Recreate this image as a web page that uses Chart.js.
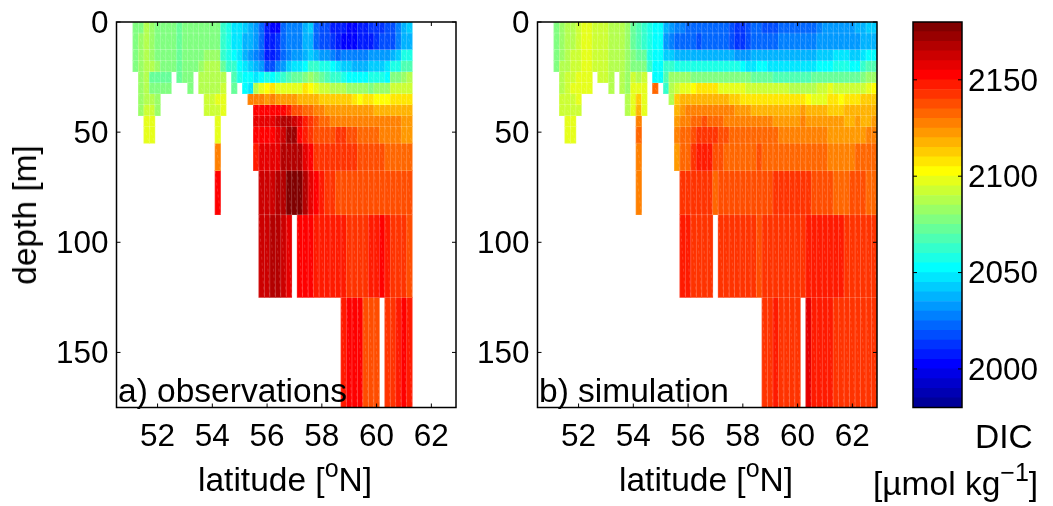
<!DOCTYPE html>
<html>
<head>
<meta charset="utf-8">
<script src="https://cdn.jsdelivr.net/npm/chart.js@4"></script>
<style>
body { margin: 0; background: white; }
#page { position: relative; width: 1053px; height: 506px; overflow: hidden; font-family: "Liberation Sans", Arial, sans-serif; color: black; }
canvas { position: absolute; top: 0; }
.txt { position: absolute; font-size: 33.5px; line-height: 38px; white-space: nowrap; }
.txt sup { font-size: 25px; line-height: 0; vertical-align: 14px; }
</style>
</head>
<body>
<div id="page">
<canvas id="obsChart" width="470" height="506" style="left:0"></canvas>
<canvas id="simChart" width="470" height="506" style="left:421px"></canvas>
<canvas id="barChart" width="193" height="506" style="left:860px"></canvas>
<div class="txt" style="left:198px;top:461px">latitude [<sup>o</sup>N]</div>
<div class="txt" style="left:619px;top:461px">latitude [<sup>o</sup>N]</div>
<div class="txt" style="left:25px;top:215px;transform:translate(-50%,-50%) rotate(-90deg)">depth [m]</div>
<div class="txt" style="left:118px;top:372px">a) observations</div>
<div class="txt" style="left:539px;top:372px">b) simulation</div>
<div class="txt" style="left:975px;top:418px">DIC</div>
<div class="txt" style="left:873px;top:465px">[µmol kg<sup>−1</sup>]</div>
</div>
<script>
const n = null;

// depth edges of the model layers [m]
const depthEdges = [0, 5, 12.5, 17.5, 22.5, 27.5, 32.5, 37.5, 42.5, 47.5, 55, 67.5, 87.5, 125, 175];
// 0.2 degree columns, 50.6 .. 62.8
const latCenters = [50.6, 50.8, 51.0, 51.2, 51.4, 51.6, 51.8, 52.0, 52.2, 52.4, 52.6, 52.8, 53.0, 53.2, 53.4, 53.6, 53.8, 54.0, 54.2, 54.4, 54.6, 54.8, 55.0, 55.2, 55.4, 55.6, 55.8, 56.0, 56.2, 56.4, 56.6, 56.8, 57.0, 57.2, 57.4, 57.6, 57.8, 58.0, 58.2, 58.4, 58.6, 58.8, 59.0, 59.2, 59.4, 59.6, 59.8, 60.0, 60.2, 60.4, 60.6, 60.8, 61.0, 61.2, 61.4, 61.6, 61.8, 62.0, 62.2, 62.4, 62.6, 62.8];
const firstCol = 3;
const latTicks = [52, 54, 56, 58, 60, 62];
const depthTicks = [0, 50, 100, 150];
const dicTicks = [2000, 2050, 2100, 2150];
const dicLevels = [1980, 1985, 1990, 1995, 2000, 2005, 2010, 2015, 2020, 2025, 2030, 2035, 2040, 2045, 2050, 2055, 2060, 2065, 2070, 2075, 2080, 2085, 2090, 2095, 2100, 2105, 2110, 2115, 2120, 2125, 2130, 2135, 2140, 2145, 2150, 2155, 2160, 2165, 2170, 2175];

// observations, one list per layer
const obs0 = [2075,2075,2085,2080,2075,2075,2075,2075,2070,2075, 2075,2075,2075,2075,2075,2075,2060,2055,2045,2045, 2040,2035,2030,2020,2005,2000,2000,2020,2025,2025, 2025,2035,2040,2020,2015,2015,2005,2005,2005,2000, 2000,2005,2005,2010,2010,2010,2015,2015,2025,2035,2040];
const obs1 = [2075,2080,2085,2080,2075,2075,2075,2075,2070,2075, 2075,2075,2075,2075,2075,2075,2060,2055,2045,2045, 2035,2035,2030,2020,2005,2005,2010,2020,2025,2025, 2025,2035,2035,2020,2015,2015,2010,2005,2000,2000, 2000,2005,2005,2005,2010,2015,2015,2015,2025,2035,2035];
const obs2 = [2075,2080,2085,2080,2075,2075,2075,2075,2070,2075, 2075,2075,2075,2080,2080,2080,2060,2055,2050,2045, 2035,2030,2025,2020,2005,2005,2010,2020,2025,2030, 2030,2035,2040,2035,2030,2030,2025,2020,2025,2025, 2025,2025,2025,2030,2030,2030,2030,2035,2040,2055,2055];
const obs3 = [2075,2080,2085,2085,2080,2075,2075,2075,2070,2075, 2075,2075,2080,2085,2085,2085,2070,2060,2060,2050, 2045,2040,2035,2030,2015,2015,2025,2030,2040,2045, 2045,2050,2060,2060,2055,2055,2050,2045,2040,2040, 2035,2035,2035,2040,2040,2040,2045,2055,2055,2065,2065];
const obs4 = [n,2080,2085,2070,2070,2070,2070,n,2070,2075, 2075,n,2085,2085,2085,2085,2085,n,2065,2055, 2050,2050,2045,2050,2055,2050,2055,2060,2065,2070, 2070,2075,2080,2075,2070,2065,2060,2060,2055,2050, 2050,2050,2050,2055,2055,2055,2050,2075,2075,2080,2085];
const obs5 = [n,2080,2085,2075,2075,2075,2075,n,n,n, 2075,n,2085,2085,2085,2085,2090,n,2070,n, 2050,2045,2085,2095,2100,2105,2095,2095,2095,2095, 2095,2105,2100,2095,2090,2090,2085,2085,2085,2080, 2080,2080,2080,2075,2080,2080,2080,2090,2090,2090,2090];
const obs6 = [n,2080,2085,2085,2080,n,n,n,n,n, n,n,n,2090,2090,2095,2095,n,n,n, n,2125,2125,2125,2120,2125,2120,2120,2120,2120, 2115,2115,2115,2115,2110,2110,2110,2110,2110,2110, 2105,2100,2105,2105,2100,2100,2100,2105,2105,2105,2105];
const obs7 = [n,2080,2090,2090,2080,n,n,n,n,n, n,n,n,2090,2090,2090,2095,n,n,n, n,n,2150,2150,2150,2150,2150,2150,2145,2135, 2135,2130,2130,2125,2125,2120,2120,2120,2120,2120, 2120,2120,2120,2120,2115,2115,2115,2115,2115,2115,2115];
const obs8 = [n,n,2095,2095,n,n,n,n,n,n, n,n,n,n,n,2095,n,n,n,n, n,n,2155,2155,2155,2155,2160,2165,2165,2160, 2155,2145,2140,2135,2130,2130,2125,2125,2125,2125, 2125,2125,2125,2125,2125,2125,2125,2125,2125,2120,2120];
const obs9 = [n,n,2095,2095,n,n,n,n,n,n, n,n,n,n,n,2095,n,n,n,n, n,n,2150,2150,2150,2150,2155,2160,2170,2170, 2150,2145,2140,2135,2135,2135,2135,2140,2140,2135, 2135,2130,2130,2130,2130,2125,2125,2125,2125,2120,2120];
const obs10 = [n,n,n,n,n,n,n,n,n,n, n,n,n,n,n,2125,n,n,n,n, n,n,2145,2155,2155,2155,2155,2165,2165,2165, 2165,2155,2150,2140,2140,2140,2140,2140,2140,2140, 2140,2135,2135,2135,2135,2135,2130,2130,2130,2130,2130];
const obs11 = [n,n,n,n,n,n,n,n,n,n, n,n,n,n,n,2150,n,n,n,n, n,n,n,2160,2160,2160,2165,2165,2175,2175, 2175,2165,2155,2150,2145,2140,2140,2135,2135,2135, 2135,2135,2135,2135,2135,2135,2135,2135,2135,2135,2135];
const obs12 = [n,n,n,n,n,n,n,n,n,n, n,n,n,n,n,n,n,n,n,n, n,n,n,2160,2160,2165,2165,2160,2155,n, 2150,2150,2150,2145,2145,2145,2145,2145,2145,2140, 2140,2140,2140,2145,2145,2150,2145,2140,2140,2140,2135];
const obs13 = [n,n,n,n,n,n,n,n,n,n, n,n,n,n,n,n,n,n,n,n, n,n,n,n,n,n,n,n,n,n, n,n,n,n,n,n,n,n,2145,2150, 2150,2150,2135,2135,2135,n,2140,2140,2145,2150,2145];

// simulation, one list per layer
const sim0 = [2075,2080,2085,2085,2090,2095,2095,2090,2090,2090, 2085,2085,2085,2080,2070,2065,2060,2055,2050,2050, 2035,2030,2025,2025,2020,2020,2020,2020,2020,2020, 2020,2020,2015,2010,2010,2015,2020,2020,2015,2015, 2015,2020,2020,2020,2020,2020,2020,2020,2025,2030, 2030,2030,2030,2030,2030,2035,2035,2040,2040];
const sim1 = [2075,2080,2085,2085,2090,2095,2095,2090,2090,2090, 2085,2085,2085,2080,2070,2065,2060,2055,2050,2050, 2030,2025,2020,2020,2020,2020,2015,2020,2020,2020, 2020,2020,2015,2010,2010,2015,2020,2020,2020,2020, 2020,2025,2025,2025,2025,2025,2025,2025,2030,2030, 2030,2030,2030,2030,2030,2030,2035,2035,2035];
const sim2 = [2075,2080,2085,2090,2090,2095,2095,2090,2090,2090, 2085,2085,2085,2080,2075,2070,2070,2055,2050,2050, 2040,2040,2035,2035,2035,2035,2035,2035,2035,2035, 2035,2035,2035,2030,2030,2030,2035,2035,2035,2035, 2035,2035,2035,2035,2035,2035,2035,2035,2040,2040, 2040,2045,2045,2045,2040,2040,2045,2050,2050];
const sim3 = [2075,2085,2085,2090,2090,2095,2095,2090,2090,2090, 2085,2085,2085,2080,2075,2075,2075,2060,2050,2050, 2060,2060,2055,2055,2055,2055,2055,2055,2055,2055, 2055,2055,2055,2055,2050,2045,2045,2050,2050,2045, 2045,2045,2045,2045,2045,2045,2045,2045,2050,2050, 2050,2055,2055,2055,2050,2050,2060,2065,2065];
const sim4 = [n,2085,2090,2090,2095,2095,2095,n,2090,2090, 2085,n,2085,2080,2090,2085,2090,n,2050,2050, 2065,2080,2080,2080,2080,2075,2075,2075,2075,2075, 2075,2075,2075,2075,2075,2075,2070,2070,2070,2070, 2065,2065,2065,2065,2065,2065,2065,2070,2070,2070, 2070,2070,2070,2070,2070,2070,2075,2080,2080];
const sim5 = [n,2085,2090,2095,2095,2095,2095,n,n,n, 2085,n,2085,2080,2095,2095,2095,n,2130,n, 2060,2085,2090,2095,2095,2100,2105,2105,2105,2105, 2095,2095,2095,2095,2095,2090,2090,2090,2090,2090, 2090,2090,2090,2085,2085,2085,2085,2085,2090,2090, 2095,2090,2090,2090,2090,2090,2090,2095,2100];
const sim6 = [n,2090,2090,2090,2095,n,n,n,n,n, n,n,n,2085,2095,2110,2095,n,n,n, n,2085,2110,2115,2115,2115,2115,2115,2115,2115, 2115,2115,2110,2110,2105,2105,2105,2105,2105,2105, 2105,2105,2105,2105,2105,2105,2100,2095,2095,2095, 2105,2105,2100,2105,2105,2105,2110,2110,2110];
const sim7 = [n,2090,2090,2090,2090,n,n,n,n,n, n,n,n,2085,2095,2115,2095,n,n,n, n,n,2115,2120,2125,2125,2125,2125,2125,2125, 2125,2125,2125,2120,2120,2120,2115,2115,2115,2115, 2115,2115,2115,2115,2115,2120,2115,2115,2115,2115, 2110,2110,2110,2115,2115,2115,2115,2115,2115];
const sim8 = [n,n,2095,2095,n,n,n,n,n,n, n,n,n,n,n,2125,n,n,n,n, n,n,2120,2125,2125,2130,2130,2135,2130,2130, 2130,2125,2125,2125,2125,2125,2125,2125,2125,2125, 2120,2120,2120,2120,2120,2125,2120,2120,2120,2120, 2120,2120,2120,2115,2115,2120,2115,2115,2120];
const sim9 = [n,n,2095,2095,n,n,n,n,n,n, n,n,n,n,n,2130,n,n,n,n, n,n,2125,2130,2130,2135,2140,2140,2140,2140, 2135,2135,2130,2130,2130,2130,2130,2130,2130,2130, 2130,2125,2125,2125,2125,2125,2125,2125,2125,2125, 2120,2120,2120,2120,2120,2120,2120,2125,2125];
const sim10 = [n,n,n,n,n,n,n,n,n,n, n,n,n,n,n,2125,n,n,n,n, n,n,2120,2130,2130,2140,2145,2145,2145,2135, 2135,2130,2130,2130,2130,2130,2130,2135,2130,2130, 2130,2130,2130,2130,2130,2130,2130,2130,2130,2130, 2125,2125,2125,2125,2125,2130,2130,2130,2130];
const sim11 = [n,n,n,n,n,n,n,n,n,n, n,n,n,n,n,2125,n,n,n,n, n,n,n,2140,2140,2140,2140,2140,2140,2130, 2135,2135,2135,2135,2135,2135,2135,2135,2135,2135, 2140,2140,2140,2140,2140,2140,2140,2135,2135,2135, 2135,2130,2130,2130,2135,2135,2135,2130,2130];
const sim12 = [n,n,n,n,n,n,n,n,n,n, n,n,n,n,n,n,n,n,n,n, n,n,n,2145,2145,2140,2140,2140,2140,n, 2140,2140,2140,2140,2140,2140,2140,2135,2140,2140, 2140,2140,2140,2140,2140,2140,2145,2145,2145,2145, 2145,2145,2145,2140,2140,2140,2140,2140,2140];
const sim13 = [n,n,n,n,n,n,n,n,n,n, n,n,n,n,n,n,n,n,n,n, n,n,n,n,n,n,n,n,n,n, n,n,n,n,n,n,n,n,2140,2140, 2145,2140,2140,2140,2140,n,2155,2145,2145,2145, 2145,2140,2140,2140,2140,2140,2140,2140,2140];

const obsRows = [obs0, obs1, obs2, obs3, obs4, obs5, obs6, obs7, obs8, obs9, obs10, obs11, obs12, obs13];
const simRows = [sim0, sim1, sim2, sim3, sim4, sim5, sim6, sim7, sim8, sim9, sim10, sim11, sim12, sim13];

// matlab jet(40), level index from 0
function ramp(k) {
    if (k < 1 || k > 29) return 0;
    if (k <= 10) return k / 10;
    if (k <= 19) return 1;
    return (30 - k) / 10;
}
function jet(v) {
    const i = Math.max(0, Math.min(39, Math.floor((v - 1980) / 5))) + 1;
    const c = [ramp(i - 15), ramp(i - 5), ramp(i + 5)].map(x => Math.round(x * 255));
    return `rgb(${c[0]},${c[1]},${c[2]})`;
}

const tickFont = { family: '"Liberation Sans", Arial, sans-serif', size: 31.5 };

// matlab style frame and inward ticks
const framePlugin = {
    id: 'frame',
    beforeDraw(chart) {
        // labels sit a touch below their ticks in the original
        const s = chart.scales.y;
        if (s.labelsMoved) return;
        s.getLabelItems().forEach(it => { it.options.translation[1] += 2; });
        s.labelsMoved = true;
    },
    afterDraw(chart) {
        const a = chart.chartArea, ctx = chart.ctx;
        ctx.save();
        ctx.strokeStyle = 'black';
        ctx.lineWidth = 1.5;
        ctx.strokeRect(a.left, a.top, a.right - a.left, a.bottom - a.top);
        ctx.lineWidth = 1;
        ctx.beginPath();
        for (const id of Object.keys(chart.scales)) {
            const s = chart.scales[id];
            if (!s.options.display) continue;
            for (const t of s.ticks) {
                const p = s.getPixelForValue(t.value);
                if (s.isHorizontal()) {
                    ctx.moveTo(p, a.bottom); ctx.lineTo(p, a.bottom - 4);
                    ctx.moveTo(p, a.top); ctx.lineTo(p, a.top + 4);
                } else {
                    ctx.moveTo(a.left, p); ctx.lineTo(a.left + 4, p);
                    ctx.moveTo(a.right, p); ctx.lineTo(a.right - 4, p);
                }
            }
        }
        ctx.stroke();
        ctx.restore();
    }
};

// faint cell edges and seams left over by the patch renderer
const seamPlugin = {
    id: 'seams',
    afterDatasetsDraw(chart) {
        const ctx = chart.ctx;
        ctx.save();
        ctx.lineWidth = 0.7;
        chart.data.datasets.forEach((d, k) => {
            chart.getDatasetMeta(k).data.forEach((el, i) => {
                if (d.data[i] == null) return;
                const x0 = el.x - el.width / 2, x1 = el.x + el.width / 2;
                const y0 = Math.min(el.y, el.base), y1 = Math.max(el.y, el.base);
                ctx.setLineDash([]);
                ctx.strokeStyle = 'rgba(255,255,255,0.16)';
                ctx.strokeRect(x0, y0, x1 - x0, y1 - y0);
                ctx.setLineDash([3, 3]);
                ctx.strokeStyle = 'rgba(255,255,255,0.22)';
                ctx.beginPath();
                ctx.moveTo(x0, y0);
                ctx.lineTo(x1, y1);
                ctx.stroke();
            });
        });
        ctx.restore();
    }
};

function fitY(width) {
    return s => { s.width = width; s.paddingTop = 0; s.paddingBottom = 0; };
}

function panel(id, rows) {
    const datasets = rows.map((row, k) => ({
        data: latCenters.map((_, i) => {
            const v = row[i - firstCol];
            return v == null ? null : [depthEdges[k], depthEdges[k + 1]];
        }),
        backgroundColor: latCenters.map((_, i) => {
            const v = row[i - firstCol];
            return v == null ? 'transparent' : jet(v);
        }),
        borderWidth: 0,
        barPercentage: 1,
        categoryPercentage: 1,
        grouped: false
    }));
    new Chart(document.getElementById(id), {
        type: 'bar',
        data: { labels: latCenters, datasets: datasets },
        options: {
            responsive: false,
            animation: false,
            layout: { padding: { top: 22, right: 14 } },
            plugins: { legend: { display: false }, tooltip: { enabled: false } },
            scales: {
                x: { display: false },
                lat: {
                    type: 'linear', position: 'bottom', min: 50.5, max: 62.9, offset: false,
                    afterBuildTicks: s => { s.ticks = latTicks.map(v => ({ value: v })); },
                    afterFit: s => { s.height = 98.5; s.paddingLeft = 0; s.paddingRight = 0; },
                    grid: { display: false, drawTicks: false },
                    border: { display: false },
                    ticks: { font: tickFont, color: 'black', padding: 11, maxRotation: 0, autoSkip: false, callback: v => String(v) }
                },
                y: {
                    reverse: true, min: 0, max: 175,
                    afterBuildTicks: s => { s.ticks = depthTicks.map(v => ({ value: v })); },
                    afterFit: fitY(116.5),
                    grid: { display: false, drawTicks: false },
                    border: { display: false },
                    ticks: { font: tickFont, color: 'black', padding: 8, autoSkip: false, callback: v => String(v) }
                }
            }
        },
        plugins: [seamPlugin, framePlugin]
    });
}

panel('obsChart', obsRows);
panel('simChart', simRows);

// colour bar
new Chart(document.getElementById('barChart'), {
    type: 'bar',
    data: {
        labels: ['DIC'],
        datasets: dicLevels.map(v => ({
            data: [[v, v + 5]],
            backgroundColor: jet(v),
            borderWidth: 0,
            barPercentage: 1,
            categoryPercentage: 1,
            grouped: false
        }))
    },
    options: {
        responsive: false,
        animation: false,
        layout: { padding: { top: 22, left: 53, bottom: 98.5 } },
        plugins: { legend: { display: false }, tooltip: { enabled: false } },
        scales: {
            x: { display: false },
            y: {
                position: 'right', min: 1980, max: 2180,
                afterBuildTicks: s => { s.ticks = dicTicks.map(v => ({ value: v })); },
                afterFit: fitY(91),
                grid: { display: false, drawTicks: false },
                border: { display: false },
                ticks: { font: tickFont, color: 'black', padding: 6, autoSkip: false, callback: v => String(v) }
            }
        }
    },
    plugins: [framePlugin]
});
</script>
</body>
</html>
